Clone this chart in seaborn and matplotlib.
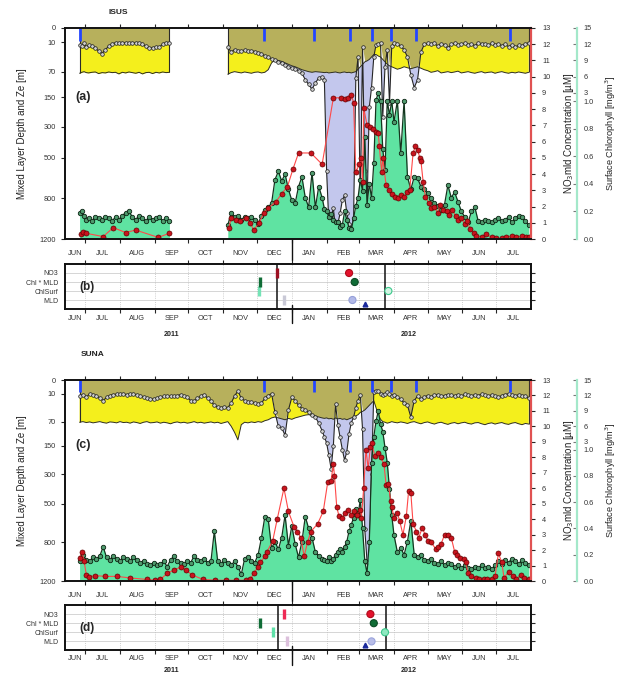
import numpy as np
import pandas as pd
import matplotlib
matplotlib.use("Agg")
import matplotlib.pyplot as plt
import matplotlib.dates as mdates
import matplotlib.ticker as mticker
import seaborn as sns

# all days are counted from 1 June 2011
T0 = pd.Timestamp("2011-06-01")

# ---------------- ISUS float ----------------
isus_day = [25, 27, 29, 31, 33, 36, 39, 42, 45, 48, 51, 54, 57, 60, 63, 66, 69, 72, 75, 78, 81, 84, 87, 90, 93, 96, 99, 102, 105,
            157, 160, 163, 166, 169, 172, 175, 178, 181, 184, 187, 190, 193, 196, 199, 202, 205, 208, 211, 214, 217, 220, 223, 226, 229, 232, 235, 238, 241,
            243, 245, 247, 249, 251, 253, 255, 257, 259, 261, 263, 265, 267, 269, 271, 273, 275, 277, 279, 281, 283, 285, 287, 289, 291, 293, 295, 297, 299, 301, 303, 305,
            308, 311, 314, 317, 320, 323, 326, 329, 332, 335, 338, 341, 344, 347, 350, 353, 356, 359, 362, 365, 368, 371, 374, 377, 380, 383, 386, 389, 392, 395, 398, 401, 404, 407, 410, 413, 416, 419, 422, 425]
isus_mld = [15, 18, 12, 20, 16, 18, 22, 28, 33, 25, 18, 13, 11, 11, 12, 11, 11, 11, 12, 12, 14, 18, 22, 21, 20, 20, 14, 11, 12,
            20, 30, 25, 27, 28, 26, 28, 27, 29, 31, 33, 38, 41, 44, 47, 50, 52, 56, 60, 62, 64, 68, 75, 95, 110, 125, 105, 90, 86,
            95, 600, 1050, 980, 900, 1100, 1050, 950, 820, 780, 950, 1050, 1090, 1000, 90, 40, 850, 20, 600, 900, 200, 120, 40, 15, 14, 12, 250, 60, 25, 180, 18, 12,
            14, 18, 25, 40, 80, 120, 95, 30, 14, 12, 14, 12, 18, 13, 15, 22, 14, 12, 16, 13, 12, 15, 13, 17, 12, 14, 13, 16, 12, 15, 13, 17, 14, 19, 15, 20, 16, 18, 13, 11]
isus_ze = [75, 72, 70, 73, 74, 72, 71, 76, 73, 74, 71, 73, 72, 77, 72, 74, 71, 73, 75, 72, 77, 73, 72, 76, 72, 74, 71, 73, 72,
           78, 73, 70, 72, 74, 71, 73, 75, 72, 71, 74, 72, 66, 52, 46, 47, 49, 52, 55, 58, 60, 63, 66, 68, 70, 72, 70, 71, 72,
           73, 72, 74, 73, 72, 71, 73, 74, 72, 71, 73, 72, 74, 72, 70, 65, 60, 55, 50, 48, 45, 40, 35, 35, 38, 40, 45, 50, 55, 58, 60, 62,
           65, 63, 60, 62, 64, 62, 60, 63, 66, 68, 72, 70, 68, 74, 72, 70, 73, 71, 69, 74, 72, 70, 73, 75, 72, 70, 74, 72, 71, 75, 72, 70, 73, 75, 72, 74, 71, 73, 75, 72]
isus_chl = [0.19, 0.2, 0.17, 0.14, 0.15, 0.13, 0.16, 0.15, 0.14, 0.16, 0.15, 0.13, 0.16, 0.14, 0.17, 0.19, 0.2, 0.16, 0.14, 0.17, 0.15, 0.13, 0.16, 0.14, 0.15, 0.16, 0.13, 0.15, 0.13,
            0.1, 0.19, 0.16, 0.17, 0.14, 0.16, 0.15, 0.16, 0.14, 0.11, 0.17, 0.21, 0.23, 0.26, 0.43, 0.49, 0.42, 0.47, 0.36, 0.28, 0.26, 0.38, 0.45, 0.3, 0.23, 0.48, 0.23, 0.38, 0.3,
            0.22, 0.2, 0.16, 0.18, 0.14, 0.12, 0.12, 0.09, 0.1, 0.2, 0.14, 0.08, 0.07, 0.15, 0.24, 0.3, 0.43, 0.35, 0.74, 0.25, 0.4, 0.3, 0.55, 1.2, 3.0, 1.1, 0.65, 0.5, 1.0, 0.9, 1.0, 0.85,
            1.0, 0.62, 1.02, 0.45, 0.36, 0.45, 0.44, 0.38, 0.36, 0.33, 0.3, 0.26, 0.24, 0.21, 0.25, 0.39, 0.3, 0.34, 0.27, 0.2, 0.16, 0.12, 0.2, 0.23, 0.13, 0.12, 0.14, 0.13, 0.12, 0.14, 0.15, 0.13, 0.14, 0.16, 0.12, 0.15, 0.17, 0.16, 0.13, 0.1]
isus_no3_day = [26, 28, 31, 46, 55, 66, 75, 95, 105,
                158, 160, 164, 168, 173, 177, 180, 185, 189, 193, 200, 205, 210, 215, 220, 231, 241, 251, 258, 261,
                264, 267, 269, 271, 274, 276, 277, 278, 281, 284, 286, 289, 291, 292, 294, 295, 298, 301, 303, 306,
                309, 311, 314, 317, 319, 322, 324, 326, 328, 329, 331, 333, 336, 338, 341, 344, 346, 349, 352, 354,
                357, 360, 362, 365, 368, 370, 373, 376, 378, 383, 387, 392, 396, 401, 405, 410, 414, 419, 423, 425]
isus_no3 = [0.3, 0.45, 0.35, 0.15, 0.7, 0.4, 0.55, 0.1, 0.35,
            0.7, 1.3, 1.2, 1.1, 1.3, 1.0, 0.55, 1.0, 1.6, 1.9, 2.3, 2.8, 3.2, 4.3, 5.3, 5.3, 4.6, 8.7, 8.7, 8.6,
            8.7, 8.9, 8.4, 4.1, 4.6, 5.0, 3.5, 8.1, 7.0, 6.9, 6.8, 6.6, 6.5, 5.7, 4.1, 5.0, 3.3, 3.0, 2.8, 2.6,
            2.5, 2.7, 2.6, 2.9, 3.0, 5.3, 5.7, 5.5, 5.0, 4.8, 3.5, 2.6, 2.2, 1.9, 2.0, 1.6, 2.1, 1.8, 1.7, 1.5,
            1.8, 1.4, 1.2, 1.3, 0.9, 1.1, 0.6, 0.4, 0.2, 0.15, 0.3, 0.1, 0.05, 0.05, 0.1, 0.2, 0.1, 0.2, 0.15, 0.1]

# ---------------- SUNA float ----------------
suna_day = [25, 28, 31, 34, 37, 40, 43, 46, 49, 52, 55, 58, 61, 64, 67, 70, 73, 76, 79, 82, 85, 88, 91, 94, 97, 100, 103, 106, 109, 112,
            115, 118, 121, 124, 127, 130, 133, 136, 139, 142, 145, 148, 151, 154, 157, 160, 163, 166, 169, 172, 175, 178, 181, 184, 187, 190, 193, 196, 199, 202,
            205, 208, 211, 214, 217, 220, 223, 226, 229, 232, 235, 238, 241,
            243, 245, 247, 249, 251, 253, 255, 257, 259, 261, 263, 265, 267, 269, 271, 273, 275, 277, 279, 281, 283, 285, 287, 289, 291, 293, 295, 297, 299, 301, 303, 305,
            308, 311, 314, 317, 320, 323, 326, 329, 332, 335, 338, 341, 344, 347, 350, 353, 356, 359, 362, 365, 368, 371, 374, 377, 380, 383, 386, 389, 392, 395, 398, 401, 404, 407, 410, 413, 416, 419, 422, 425]
suna_mld = [15, 12, 18, 10, 12, 14, 20, 25, 18, 14, 12, 11, 11, 11, 12, 11, 11, 13, 15, 17, 19, 21, 22, 20, 18, 16, 15, 16, 16, 14,
            12, 15, 18, 25, 26, 20, 15, 12, 20, 26, 35, 39, 40, 39, 40, 30, 15, 8, 20, 25, 27, 28, 30, 33, 30, 20, 14, 10, 50, 85,
            90, 115, 45, 18, 25, 35, 42, 46, 50, 55, 60, 75, 100,
            120, 140, 200, 270, 150, 33, 80, 122, 170, 225, 180, 110, 73, 61, 40, 25, 12, 95, 700, 1000, 1050, 300, 9, 8, 8, 10, 12, 10, 9, 11, 14, 12,
            18, 22, 30, 35, 60, 25, 15, 22, 17, 14, 18, 13, 12, 16, 14, 12, 13, 15, 12, 16, 11, 13, 15, 12, 14, 11, 13, 16, 12, 15, 18, 14, 12, 10, 12, 15, 12, 14, 16, 20]
suna_ze = [72, 70, 73, 71, 74, 72, 70, 73, 75, 71, 72, 74, 70, 73, 72, 75, 71, 73, 76, 72, 70, 74, 73, 71, 75, 72, 74, 77, 73, 71,
           74, 72, 75, 73, 70, 74, 72, 75, 73, 71, 74, 72, 76, 73, 70, 85, 105, 130, 80, 72, 74, 71, 73, 70, 72, 68, 66, 62, 60, 62,
           64, 66, 63, 65, 62, 60, 58, 56, 55, 57, 58, 60, 62,
           63, 62, 64, 63, 65, 62, 64, 63, 65, 64, 66, 64, 62, 60, 58, 55, 50, 48, 45, 40, 35, 30, 25, 40, 55, 65, 70, 72, 75, 73, 70, 72,
           74, 71, 73, 76, 72, 70, 74, 77, 73, 71, 75, 78, 74, 72, 76, 79, 75, 73, 77, 74, 72, 76, 78, 74, 73, 77, 80, 76, 74, 78, 75, 73, 77, 79, 75, 73, 77, 80, 76, 78]
suna_chl = [0.15, 0.2, 0.16, 0.15, 0.18, 0.17, 0.19, 0.26, 0.18, 0.16, 0.19, 0.17, 0.15, 0.18, 0.17, 0.15, 0.18, 0.16, 0.14, 0.15,
            0.13, 0.12, 0.14, 0.12, 0.13, 0.15, 0.11, 0.16, 0.19, 0.15, 0.14, 0.13, 0.15, 0.14, 0.19, 0.16, 0.15, 0.17, 0.14, 0.15,
            0.38, 0.15, 0.13, 0.16, 0.14, 0.12, 0.15, 0.11, 0.05, 0.17, 0.18, 0.15, 0.14, 0.2, 0.33, 0.49, 0.47, 0.25, 0.3, 0.24,
            0.33, 0.5, 0.27, 0.42, 0.28, 0.18, 0.3, 0.49, 0.4, 0.33, 0.22, 0.19, 0.17,
            0.16, 0.15, 0.18, 0.15, 0.17, 0.2, 0.22, 0.24, 0.22, 0.26, 0.3, 0.38, 0.43, 0.48, 0.55, 0.5, 0.62, 0.4, 0.15, 0.06, 0.3, 0.9, 4.0, 7.0, 9.0, 6.5, 5.0, 1.5, 0.9, 0.7, 0.5, 0.35,
            0.22, 0.25, 0.2, 0.3, 0.46, 0.2, 0.18, 0.2, 0.16, 0.15, 0.17, 0.14, 0.13, 0.15, 0.12, 0.14, 0.13, 0.11, 0.12, 0.1,
            0.12, 0.1, 0.09, 0.11, 0.1, 0.12, 0.1, 0.11, 0.09, 0.12, 0.15, 0.13, 0.16, 0.14, 0.17, 0.15, 0.13, 0.16, 0.14, 0.12]
suna_no3_day = [25, 27, 29, 31, 33, 39, 48, 58, 70, 85, 92, 97, 103, 109, 115, 120, 125, 135, 146, 155,
                164, 173, 177, 180, 184, 186, 190, 192, 197, 201, 207, 211, 216, 219, 222, 225, 228, 231, 237, 242,
                246, 249, 251, 252, 254, 256, 259, 261, 264, 267, 269, 272, 275, 276, 278, 280, 282, 284, 285, 288,
                291, 293, 296, 298, 300, 302, 303, 305, 308, 310, 313, 316, 318, 320, 322, 325, 327, 330, 333, 335,
                338, 342, 344, 347, 350, 353, 356, 359, 361, 364, 367, 369, 371, 374, 378, 381, 385, 388, 392, 395,
                398, 401, 403, 407, 411, 414, 418, 421, 425]
suna_no3 = [1.5, 1.9, 1.3, 0.4, 0.27, 0.35, 0.3, 0.3, 0.2, 0.1, 0.05, 0.1, 0.5, 0.7, 0.9, 0.7, 0.4, 0.1, 0.05, 0.05,
            0.05, 0.05, 0.1, 0.5, 0.9, 1.2, 1.6, 1.9, 2.6, 4.0, 6.0, 4.5, 3.5, 3.2, 2.8, 1.6, 2.5, 3.2, 3.7, 4.5,
            6.4, 6.5, 7.6, 6.8, 4.8, 4.2, 4.1, 4.4, 4.6, 4.3, 4.5, 4.3, 4.6, 4.1, 6.0, 8.5, 7.3, 8.7, 8.9, 8.1,
            8.3, 8.0, 7.6, 6.2, 6.3, 5.2, 4.8, 4.1, 4.4, 3.9, 3.0, 4.2, 5.8, 5.7, 3.7, 3.2, 2.8, 3.4, 3.0, 2.6,
            2.5, 2.1, 2.2, 2.4, 3.0, 3.0, 2.8, 1.9, 1.7, 1.5, 1.4, 1.2, 0.5, 0.3, 0.2, 0.1, 0.1, 0.15, 0.1, 0.3,
            1.8, 1.2, 0.2, 0.6, 0.3, 0.15, 0.4, 0.2, 0.1]

# float surfacing marks at the top of the depth panels
blue_day = [25, 189, 234, 266, 285, 302, 325, 408]

# bloom timing panels, rows from bottom to top
event_rows = ["MLD", "ChlSurf", "Chl * MLD", "NO3"]
isus_onset = [207, 185, 186, 201]
isus_peak = [268, 300, 270, 265]
isus_tri = 279
isus_marks = [201, 297]
suna_onset = [210, 197, 186, 207]
suna_peak = [285, 297, 287, 284]
suna_tri = 279
suna_marks = [202, 298]

months = ["JUN", "JUL", "AUG", "SEP", "OCT", "NOV", "DEC", "JAN", "FEB", "MAR", "APR", "MAY", "JUN", "JUL"]
depth_ticks = [0, 10, 70, 150, 300, 500, 800, 1200]
no3_ticks = list(range(14))
chl_ticks = [0, 0.2, 0.4, 0.6, 0.8, 1.0, 3, 6, 9, 12, 15]
chl_labels = ["0.0", "0.2", "0.4", "0.6", "0.8", "1.0", "3", "6", "9", "12", "15"]

OLIVE = "#b7b05c"
YELLOW = "#f4ef1c"
LAVENDER = "#c3c7ed"
GREEN = "#5fe3a2"
BLUE = "#2446ff"

# axis scales as in the original figure
_D = [-200, 0, 10, 70, 150, 300, 500, 800, 1200, 3000]
_F = [-1.36, 0, 0.068, 0.207, 0.328, 0.469, 0.616, 0.806, 1.0, 1.87]
_C = [-5, 0, 1, 3, 6, 9, 12, 15, 100]
_G = [-42.5, 0, 8.5, 9, 10, 11, 12, 13, 41.3]


def depth_fwd(d):
    return np.interp(d, _D, _F)


def depth_inv(f):
    return np.interp(f, _F, _D)


def chl_fwd(c):
    return np.interp(c, _C, _G)


def chl_inv(g):
    return np.interp(g, _G, _C)


def to_dates(days):
    return T0 + pd.to_timedelta(np.asarray(days, float), unit="D")


def segments(days):
    d = np.asarray(days, float)
    return np.concatenate([[0], np.cumsum(np.diff(d) > 30)])


XMIN = mdates.date2num(pd.Timestamp("2011-06-13"))
XMAX = mdates.date2num(pd.Timestamp("2012-08-01"))
JAN1 = mdates.date2num(pd.Timestamp("2012-01-01"))


def time_axis(ax, pad, top=True):
    edges = pd.date_range("2011-07-01", "2012-07-01", freq="MS")
    mids = [pd.Timestamp("2011-06-22")] + list(edges + pd.Timedelta(days=15))
    ax.xaxis.set_minor_locator(mticker.FixedLocator(mdates.date2num(edges)))
    ax.xaxis.set_major_locator(mticker.FixedLocator(mdates.date2num(mids)))
    ax.xaxis.set_major_formatter(mticker.FixedFormatter(months))
    ax.tick_params(axis="x", which="major", length=0, pad=pad, labelsize=5.3, labelcolor="#333333")
    ax.tick_params(axis="x", which="minor", length=3, width=0.8, direction="out", top=top, bottom=True)
    ax.set_xlim(XMIN, XMAX)
    ax.set_xlabel("")


def depth_panel(ax, day, mld, ze, chl, n_day, no3, letter):
    df = pd.DataFrame({"date": to_dates(day), "mld": mld, "ze": ze, "chl": chl, "seg": segments(day)})
    dn = pd.DataFrame({"date": to_dates(n_day), "no3": no3, "seg": segments(n_day)})

    ax.set_yscale("function", functions=(depth_fwd, depth_inv))
    for _, g in df.groupby("seg"):
        m = g["mld"].to_numpy(float)
        z = g["ze"].to_numpy(float)
        ax.fill_between(g["date"], 0, np.minimum(m, z), color=OLIVE, lw=0)
        ax.fill_between(g["date"], m, z, where=m <= z, interpolate=True, color=YELLOW, lw=0)
        ax.fill_between(g["date"], z, m, where=m >= z, interpolate=True, color=LAVENDER, lw=0)
        ax.vlines([g["date"].iloc[0], g["date"].iloc[-1]], 0, [z[0], z[-1]], color="#2a2a2a", lw=0.8)
    sns.lineplot(data=df, x="date", y="ze", units="seg", estimator=None, ax=ax,
                 color="#2e2e20", lw=0.7)
    sns.lineplot(data=df, x="date", y="mld", units="seg", estimator=None, ax=ax,
                 color="#262626", lw=0.8, marker="o", ms=2.6, mfc="#cfcfcf", mec="#1a1a1a", mew=0.5)
    ax.vlines(to_dates(blue_day), 0, 9, color=BLUE, lw=2.0)
    ax.set_ylim(1200, 0)

    axc = ax.twinx()
    axc.set_yscale("function", functions=(chl_fwd, chl_inv))
    for _, g in df.groupby("seg"):
        axc.fill_between(g["date"], 0, g["chl"].to_numpy(float), color=GREEN, lw=0)
    sns.lineplot(data=df, x="date", y="chl", units="seg", estimator=None, ax=axc,
                 color="#15361f", lw=0.9, marker="o", ms=3.2, mfc="#4f9a6d", mec="#0c2413", mew=0.6)
    axc.set_ylim(0, 15)

    axn = ax.twinx()
    sns.lineplot(data=dn, x="date", y="no3", units="seg", estimator=None, ax=axn,
                 color="#ff4848", lw=0.8, marker="o", ms=3.6, mfc="#c8141e", mec="#650000", mew=0.5)
    axn.set_ylim(0, 13)

    # frame
    for a in (ax, axc):
        for s in a.spines.values():
            s.set_visible(False)
    for k in ("left", "top", "bottom"):
        axn.spines[k].set_linewidth(1.4)
        axn.spines[k].set_color("#111111")
    axn.spines["right"].set_color("#e05252")
    axn.spines["right"].set_linewidth(1.6)
    axc.spines["right"].set_visible(True)
    axc.spines["right"].set_position(("outward", 33))
    axc.spines["right"].set_color("#a4e8ca")
    axc.spines["right"].set_linewidth(1.6)

    ax.set_yticks(depth_ticks)
    ax.set_yticklabels([str(t) for t in depth_ticks])
    ax.tick_params(axis="y", labelsize=5.3, length=3, width=0.8, direction="out", labelcolor="#333333")
    axn.set_yticks(no3_ticks)
    axn.tick_params(axis="y", labelsize=5.3, length=3, width=0.8, direction="out", pad=5, labelcolor="#333333")
    axc.set_yticks(chl_ticks)
    axc.set_yticklabels(chl_labels)
    axc.tick_params(axis="y", labelsize=5.3, length=3, width=0.8, direction="in", pad=5, labelcolor="#333333",
                    color="#777777")

    ax.set_ylabel("Mixed Layer Depth and Ze [m]", fontsize=7, color="#222222")
    ax.yaxis.set_label_coords(-0.082, 0.5)
    axn.set_ylabel("NO$_3$mld Concentration [µM]", fontsize=7, color="#222222")
    axn.yaxis.set_label_coords(1.066, 0.5)
    axc.set_ylabel("Surface Chlorophyll [mg/m$^3$]", fontsize=6.6, color="#222222")
    axc.yaxis.set_label_coords(1.156, 0.5)

    ax.text(0.022, 0.675, letter, transform=ax.transAxes, fontsize=9, fontweight="bold", va="center")
    ax.axvline(JAN1, ymin=-0.1, ymax=0.02, color="#111111", lw=1.0, clip_on=False)
    time_axis(ax, pad=8)


def event_panel(ax, onset, peak, tri, marks, onset_colors, peak_faces, peak_edges, letter, label_pad, year_y):
    rows = np.arange(1, 5)
    for r in rows:
        ax.axhline(r, color="#cfcfcf", lw=0.6, zorder=1)
    edges = pd.date_range("2011-07-01", "2012-07-01", freq="MS")
    for e in edges:
        ax.axvline(e, color="#bdbdbd", lw=0.6, ls=(0, (1, 1.6)), zorder=1)
    for d in marks:
        ax.axvline(to_dates([d])[0], color="#111111", lw=1.1, zorder=3)
    for r, d, c in zip(rows, onset, onset_colors):
        ax.plot(to_dates([d]), [r], marker="|", ms=7, mew=2.4, color=c, zorder=4, ls="none")
    peaks = pd.DataFrame({"date": to_dates(peak), "row": rows, "kind": event_rows})
    sns.scatterplot(data=peaks, x="date", y="row", hue="kind", palette=dict(zip(event_rows, peak_faces)),
                    s=26, edgecolor=peak_edges, linewidth=0.8, legend=False, ax=ax, zorder=5)
    ax.plot(to_dates([tri]), [0.55], marker="^", ms=3.4, color="#1b2a9c", ls="none", zorder=5)

    ax.set_ylim(0, 5)
    ax.set_yticks(rows)
    ax.set_yticklabels(event_rows)
    ax.tick_params(axis="y", left=False, right=True, labelleft=True, length=3, width=0.8,
                   labelsize=5.0, pad=2, labelcolor="#333333")
    for s in ax.spines.values():
        s.set_linewidth(1.4)
        s.set_color("#111111")
    ax.set_ylabel("")
    ax.text(0.03, 0.5, letter, transform=ax.transAxes, fontsize=8.5, fontweight="bold", va="center")
    ax.axvline(JAN1, ymin=-0.31, ymax=0.09, color="#111111", lw=1.0, clip_on=False)
    time_axis(ax, pad=label_pad)
    ax.text(mdates.date2num(pd.Timestamp("2011-09-16")), year_y, "2011", transform=ax.get_xaxis_transform(),
            fontsize=5.1, fontweight="bold", ha="center", va="center", color="#222222")
    ax.text(mdates.date2num(pd.Timestamp("2012-04-14")), year_y, "2012", transform=ax.get_xaxis_transform(),
            fontsize=5.1, fontweight="bold", ha="center", va="center", color="#222222")


sns.set_theme(style="white")
plt.rcParams["font.family"] = ["Liberation Sans", "DejaVu Sans"]

fig = plt.figure(figsize=(6.17, 6.79), dpi=100)
ax_a = fig.add_axes([0.1053, 0.6480, 0.7553, 0.3108])
ax_b = fig.add_axes([0.1053, 0.5449, 0.7553, 0.0663])
ax_c = fig.add_axes([0.1053, 0.1443, 0.7553, 0.2960])
ax_d = fig.add_axes([0.1053, 0.0420, 0.7553, 0.0670])

depth_panel(ax_a, isus_day, isus_mld, isus_ze, isus_chl, isus_no3_day, isus_no3, "(a)")
depth_panel(ax_c, suna_day, suna_mld, suna_ze, suna_chl, suna_no3_day, suna_no3, "(c)")

event_panel(ax_b, isus_onset, isus_peak, isus_tri, isus_marks,
            ["#c9c9d6", "#74e3b6", "#106c36", "#9c1022"],
            ["#b2b9e8", "#d2f4e2", "#106c36", "#e3122c"],
            ["#949fd8", "#3cc88c", "#0b4a24", "#b00a1a"], "(b)", 4, -0.56)
event_panel(ax_d, suna_onset, suna_peak, suna_tri, suna_marks,
            ["#dcc0dc", "#5fe0a8", "#106c36", "#ee2a55"],
            ["#b8bde8", "#8fe8c0", "#106c36", "#e3122c"],
            ["#9aa3dc", "#3cc88c", "#0b4a24", "#b00a1a"], "(d)", 3, -0.44)

fig.text(118 / 617, 1 - 13 / 679, "ISUS", fontsize=6, fontweight="bold", ha="center", va="center", color="#222222")
fig.text(93 / 617, 1 - 354 / 679, "SUNA", fontsize=6, fontweight="bold", ha="center", va="center", color="#222222")

fig.savefig("out.png", dpi=100)
